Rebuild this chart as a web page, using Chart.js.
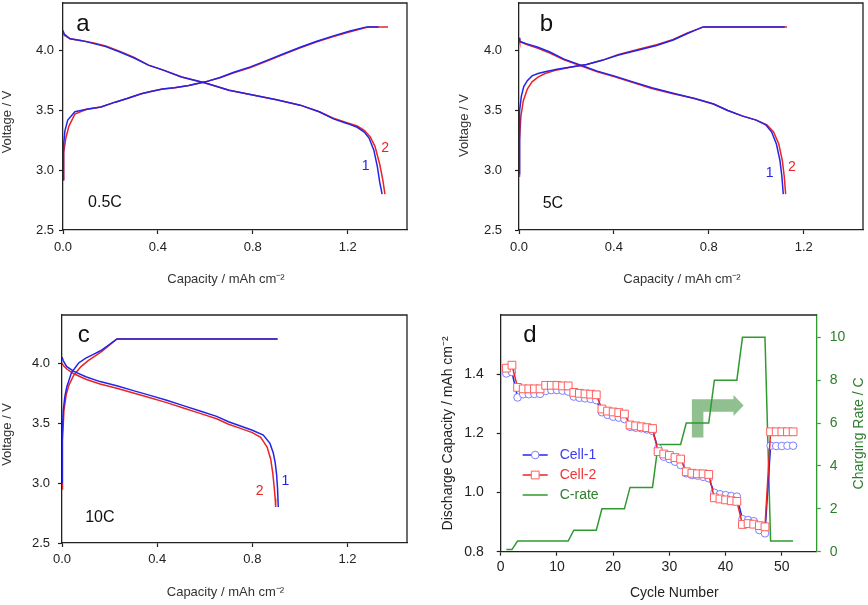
<!DOCTYPE html>
<html lang="en">
<head>
<meta charset="UTF-8">
<title>Charge / discharge curves and rate capability</title>
<script src="https://cdn.jsdelivr.net/npm/chart.js@4.4.1/dist/chart.umd.min.js"></script>
<style>
  body { margin: 0; background: #fff; }
  canvas { position: absolute; }
</style>
</head>
<body>
<canvas id="panelA" width="430" height="300" style="left:0;top:0"></canvas>
<canvas id="panelB" width="438" height="300" style="left:430px;top:0"></canvas>
<canvas id="panelC" width="430" height="305" style="left:0;top:300px"></canvas>
<canvas id="panelD" width="438" height="305" style="left:430px;top:300px"></canvas>
<script>
// ---- panel a : 0.5C ----
const aChgCap1 = [0, 0.002, 0.008, 0.02, 0.05, 0.1, 0.16, 0.22, 0.27, 0.33, 0.37, 0.42, 0.47, 0.53, 0.6, 0.66, 0.72, 0.79, 0.86, 0.93, 1.0, 1.07, 1.14, 1.21, 1.28, 1.33];
const aChgV1   = [2.92, 3.2, 3.33, 3.42, 3.49, 3.51, 3.53, 3.57, 3.6, 3.64, 3.66, 3.68, 3.69, 3.71, 3.74, 3.775, 3.82, 3.865, 3.92, 3.975, 4.03, 4.08, 4.125, 4.165, 4.2, 4.2];
const aChgCap2 = [0, 0.003, 0.012, 0.025, 0.05, 0.1, 0.16, 0.22, 0.27, 0.33, 0.37, 0.42, 0.47, 0.53, 0.6, 0.66, 0.72, 0.79, 0.86, 0.93, 1.0, 1.07, 1.14, 1.21, 1.29, 1.37];
const aChgV2   = [2.92, 3.15, 3.27, 3.37, 3.47, 3.51, 3.53, 3.57, 3.6, 3.64, 3.66, 3.68, 3.69, 3.71, 3.74, 3.775, 3.815, 3.86, 3.915, 3.97, 4.025, 4.075, 4.12, 4.16, 4.2, 4.2];
const aDisCap1 = [0, 0.005, 0.03, 0.08, 0.13, 0.18, 0.24, 0.3, 0.36, 0.42, 0.5, 0.6, 0.7, 0.8, 0.9, 1.0, 1.08, 1.14, 1.2, 1.24, 1.27, 1.29, 1.31, 1.325, 1.335, 1.345];
const aDisV1   = [4.17, 4.14, 4.1, 4.085, 4.06, 4.035, 3.99, 3.94, 3.88, 3.84, 3.78, 3.73, 3.67, 3.63, 3.59, 3.545, 3.49, 3.43, 3.39, 3.36, 3.32, 3.27, 3.17, 3.03, 2.9, 2.8];
const aDisCap2 = [0, 0.005, 0.03, 0.08, 0.13, 0.18, 0.24, 0.3, 0.36, 0.42, 0.5, 0.6, 0.7, 0.8, 0.9, 1.0, 1.08, 1.14, 1.2, 1.24, 1.27, 1.295, 1.315, 1.335, 1.348, 1.357];
const aDisV2   = [4.16, 4.13, 4.1, 4.085, 4.065, 4.04, 3.995, 3.945, 3.88, 3.84, 3.78, 3.73, 3.67, 3.63, 3.59, 3.545, 3.49, 3.435, 3.395, 3.37, 3.335, 3.28, 3.2, 3.05, 2.92, 2.8];

// ---- panel b : 5C ----
const bChgCap1 = [0, 0.001, 0.004, 0.01, 0.02, 0.035, 0.055, 0.08, 0.11, 0.16, 0.22, 0.285, 0.35, 0.42, 0.5, 0.58, 0.65, 0.71, 0.775, 1.12];
const bChgV1   = [2.97, 3.3, 3.5, 3.62, 3.7, 3.75, 3.79, 3.81, 3.825, 3.845, 3.865, 3.885, 3.92, 3.965, 4.005, 4.045, 4.09, 4.145, 4.2, 4.2];
const bChgCap2 = [0, 0.002, 0.008, 0.018, 0.035, 0.055, 0.08, 0.11, 0.16, 0.22, 0.285, 0.35, 0.42, 0.5, 0.58, 0.65, 0.71, 0.78, 1.13];
const bChgV2   = [2.95, 3.25, 3.45, 3.58, 3.68, 3.74, 3.78, 3.81, 3.84, 3.865, 3.885, 3.92, 3.97, 4.01, 4.05, 4.095, 4.15, 4.2, 4.2];
const bDisCap1 = [0, 0.003, 0.03, 0.08, 0.13, 0.19, 0.26, 0.33, 0.4, 0.48, 0.56, 0.65, 0.74, 0.82, 0.88, 0.94, 1.0, 1.04, 1.065, 1.085, 1.1, 1.108, 1.114];
const bDisV1   = [4.11, 4.08, 4.06, 4.03, 3.99, 3.93, 3.88, 3.83, 3.79, 3.74, 3.69, 3.645, 3.6, 3.555, 3.5, 3.455, 3.42, 3.38, 3.32, 3.22, 3.08, 2.95, 2.8];
const bDisCap2 = [0, 0.003, 0.03, 0.08, 0.13, 0.19, 0.26, 0.33, 0.4, 0.48, 0.56, 0.65, 0.74, 0.82, 0.88, 0.94, 1.0, 1.045, 1.073, 1.095, 1.11, 1.118, 1.124];
const bDisV2   = [4.1, 4.075, 4.055, 4.02, 3.98, 3.925, 3.875, 3.825, 3.785, 3.735, 3.685, 3.64, 3.6, 3.555, 3.5, 3.455, 3.42, 3.38, 3.32, 3.22, 3.08, 2.95, 2.8];

// ---- panel c : 10C ----
const cChgCap1 = [0, 0.001, 0.005, 0.012, 0.02, 0.04, 0.07, 0.1, 0.13, 0.16, 0.19, 0.231, 0.906];
const cChgV1   = [3.0, 3.4, 3.6, 3.72, 3.8, 3.92, 4.0, 4.04, 4.07, 4.1, 4.14, 4.2, 4.2];
const cChgCap2 = [0, 0.002, 0.008, 0.018, 0.03, 0.05, 0.08, 0.11, 0.14, 0.17, 0.2, 0.231, 0.906];
const cChgV2   = [2.95, 3.35, 3.6, 3.74, 3.82, 3.9, 3.97, 4.02, 4.06, 4.1, 4.15, 4.2, 4.2];
const cDisCap1 = [0, 0.005, 0.02, 0.05, 0.1, 0.16, 0.23, 0.3, 0.37, 0.44, 0.51, 0.58, 0.65, 0.7, 0.75, 0.8, 0.846, 0.874, 0.888, 0.896, 0.902, 0.906, 0.909];
const cDisV1   = [4.05, 4.02, 3.97, 3.93, 3.885, 3.845, 3.81, 3.77, 3.73, 3.69, 3.645, 3.6, 3.555, 3.51, 3.475, 3.44, 3.4, 3.33, 3.25, 3.17, 3.07, 2.95, 2.8];
const cDisCap2 = [0, 0.005, 0.02, 0.05, 0.1, 0.16, 0.23, 0.3, 0.37, 0.44, 0.51, 0.58, 0.65, 0.7, 0.75, 0.8, 0.835, 0.862, 0.877, 0.886, 0.892, 0.896, 0.898];
const cDisV2   = [4.0, 3.98, 3.95, 3.91, 3.865, 3.825, 3.79, 3.75, 3.71, 3.67, 3.625, 3.58, 3.535, 3.49, 3.455, 3.42, 3.38, 3.3, 3.2, 3.08, 2.96, 2.87, 2.8];

// ---- panel d : cycling ----
const cycles = [1, 2, 3, 4, 5, 6, 7, 8, 9, 10, 11, 12, 13, 14, 15, 16, 17, 18, 19, 20, 21, 22, 23, 24, 25, 26,
                27, 28, 29, 30, 31, 32, 33, 34, 35, 36, 37, 38, 39, 40, 41, 42, 43, 44, 45, 46, 47, 48, 49, 50, 51, 52];
const cell1 = [1.402, 1.407, 1.321, 1.332, 1.332, 1.333, 1.333, 1.343, 1.346, 1.346, 1.344, 1.341, 1.324, 1.32, 1.318, 1.316, 1.312,
               1.271, 1.262, 1.256, 1.253, 1.248, 1.222, 1.219, 1.217, 1.213, 1.208, 1.149, 1.121, 1.113, 1.104, 1.093,
               1.065, 1.059, 1.057, 1.053, 1.048, 0.999, 0.994, 0.991, 0.988, 0.986, 0.91, 0.907, 0.903, 0.873, 0.862,
               1.158, 1.157, 1.157, 1.158, 1.158];
const cell2 = [1.42, 1.43, 1.355, 1.35, 1.35, 1.35, 1.35, 1.362, 1.362, 1.362, 1.36, 1.36, 1.338, 1.335, 1.333, 1.332, 1.33,
               1.282, 1.275, 1.272, 1.27, 1.265, 1.228, 1.225, 1.222, 1.219, 1.216, 1.138, 1.13, 1.125, 1.118, 1.113,
               1.07, 1.065, 1.063, 1.063, 1.061, 0.982, 0.978, 0.975, 0.972, 0.97, 0.892, 0.895, 0.893, 0.888, 0.884,
               1.205, 1.205, 1.205, 1.205, 1.205];
const cRate = [0.1, 0.1, 0.5, 0.5, 0.5, 0.5, 0.5, 0.5, 0.5, 0.5, 0.5, 0.5, 1, 1, 1, 1, 1, 2, 2, 2, 2, 2, 3, 3, 3, 3, 3,
               5, 5, 5, 5, 5, 6, 6, 6, 6, 6, 8, 8, 8, 8, 8, 10, 10, 10, 10, 10, 0.5, 0.5, 0.5, 0.5, 0.5];
// L-shaped arrow (cycle, capacity)
const arrowX = [34.0, 34.0, 41.4, 41.4, 43.2, 41.4, 41.4, 36.05, 36.05];
const arrowY = [1.186, 1.315, 1.315, 1.329, 1.294, 1.258, 1.273, 1.273, 1.186];

const BLUE = '#2424e8', RED = '#e82424', GREEN = '#2f9a2f', DARK = '#222';
const FONT = '"Liberation Sans", Arial, sans-serif';
Chart.defaults.font.family = FONT;
Chart.defaults.color = DARK;
Chart.defaults.animation = false;

function pts(xs, ys) { return xs.map((x, i) => ({ x: x, y: ys[i] })); }

function curve(xs, ys, color) {
  return { data: pts(xs, ys), showLine: true, borderColor: color, borderWidth: 1.5,
           pointRadius: 0, tension: 0, fill: false };
}

// plugins
const notesPlugin = {
  id: 'notes',
  afterDatasetsDraw(chart, args, opts) {
    const ctx = chart.ctx;
    (opts.items || []).forEach(n => {
      const px = chart.scales.x.getPixelForValue(n.x);
      const py = chart.scales.y.getPixelForValue(n.y);
      ctx.save();
      ctx.font = n.size + 'px ' + FONT;
      ctx.fillStyle = n.color || '#111';
      ctx.textAlign = 'center';
      ctx.textBaseline = 'middle';
      ctx.fillText(n.text, px, py);
      ctx.restore();
    });
  }
};

const framePlugin = {
  id: 'frame',
  afterDraw(chart, args, opts) {
    const { left, top, right, bottom } = chart.chartArea;
    const ctx = chart.ctx;
    ctx.save();
    ctx.strokeStyle = DARK;
    ctx.lineWidth = 1.3;
    ctx.beginPath();
    ctx.moveTo(left, top);
    ctx.lineTo(right, top);
    if (opts.full) ctx.lineTo(right, bottom);
    ctx.stroke();
    ctx.restore();
  }
};

function voltageAxes(o) {
  return {
    x: {
      type: 'linear', min: 0, max: 1.45,
      afterFit: s => { s.height = o.xh; s.paddingLeft = 0; s.paddingRight = 0; },
      ticks: { stepSize: 0.4, includeBounds: false, padding: o.xpad, maxRotation: 0,
               font: { size: 13 }, color: DARK, callback: v => v.toFixed(1) },
      grid: { drawOnChartArea: false, tickLength: 4, tickColor: DARK, tickWidth: 1.2 },
      border: { color: DARK, width: 1.3 },
      title: { display: true, text: 'Capacity / mAh cm\u207B\u00B2' + '\u00a0'.repeat(5),
               font: { size: 13 }, color: '#333', padding: { top: 0, bottom: o.xtpad } }
    },
    y: {
      type: 'linear', min: 2.5, max: 4.4,
      afterFit: s => { s.width = o.yw; s.paddingTop = 0; s.paddingBottom = 0; },
      ticks: { stepSize: 0.5, includeBounds: false, padding: o.ypad,
               font: { size: 13 }, color: DARK, callback: v => v.toFixed(1) },
      grid: { drawOnChartArea: false, tickLength: 4, tickColor: DARK, tickWidth: 1.2 },
      border: { color: DARK, width: 1.3 },
      title: { display: true, text: 'Voltage / V' + '\u00a0'.repeat(o.yshift),
               font: { size: 13 }, color: '#333', padding: { top: o.ytpad, bottom: 0 } }
    }
  };
}

function voltagePanel(id, sets, axes, pad, notes) {
  return new Chart(document.getElementById(id), {
    type: 'scatter',
    data: { datasets: [
      curve(sets[0], sets[1], BLUE), curve(sets[4], sets[5], BLUE),
      curve(sets[2], sets[3], RED), curve(sets[6], sets[7], RED)
    ] },
    options: {
      responsive: false,
      layout: { padding: pad },
      scales: voltageAxes(axes),
      plugins: { legend: { display: false }, tooltip: { enabled: false },
                 notes: { items: notes }, frame: { full: true } }
    },
    plugins: [notesPlugin, framePlugin]
  });
}

voltagePanel('panelA',
  [aChgCap1, aChgV1, aChgCap2, aChgV2, aDisCap1, aDisV1, aDisCap2, aDisV2],
  { xh: 70, xpad: 6, xtpad: 13, yw: 63, ypad: 5, ytpad: 0, yshift: 3 },
  { left: 0, top: 3, right: 23, bottom: 0 },
  [ { text: 'a', x: 0.084, y: 4.217, size: 24 },
    { text: '0.5C', x: 0.177, y: 2.733, size: 16 },
    { text: '1', x: 1.276, y: 3.036, size: 14, color: BLUE },
    { text: '2', x: 1.358, y: 3.183, size: 14, color: RED } ]);

voltagePanel('panelB',
  [bChgCap1, bChgV1, bChgCap2, bChgV2, bDisCap1, bDisV1, bDisCap2, bDisV2],
  { xh: 70, xpad: 6, xtpad: 13, yw: 89, ypad: 13, ytpad: 27, yshift: 5 },
  { left: 0, top: 3, right: 5, bottom: 0 },
  [ { text: 'b', x: 0.116, y: 4.217, size: 24 },
    { text: '5C', x: 0.143, y: 2.725, size: 16 },
    { text: '1', x: 1.056, y: 2.978, size: 14, color: BLUE },
    { text: '2', x: 1.15, y: 3.028, size: 14, color: RED } ]);

voltagePanel('panelC',
  [cChgCap1, cChgV1, cChgCap2, cChgV2, cDisCap1, cDisV1, cDisCap2, cDisV2],
  { xh: 62, xpad: 5, xtpad: 4.5, yw: 62, ypad: 8, ytpad: 0, yshift: 3 },
  { left: 0, top: 15, right: 23, bottom: 0 },
  [ { text: 'c', x: 0.091, y: 4.233, size: 24 },
    { text: '10C', x: 0.159, y: 2.708, size: 16 },
    { text: '1', x: 0.939, y: 3.019, size: 14, color: BLUE },
    { text: '2', x: 0.831, y: 2.936, size: 14, color: RED } ]);

// ---- panel d ----
const legendColors = ['#3b3bf0', '#ee3434', '#2e7d2e'];

const arrowPlugin = {
  id: 'arrow',
  beforeDatasetsDraw(chart) {
    const ctx = chart.ctx, sx = chart.scales.x, sy = chart.scales.y;
    ctx.save();
    ctx.fillStyle = 'rgba(70,150,70,0.6)';
    ctx.beginPath();
    arrowX.forEach((x, i) => {
      const px = sx.getPixelForValue(x), py = sy.getPixelForValue(arrowY[i]);
      if (i === 0) ctx.moveTo(px, py); else ctx.lineTo(px, py);
    });
    ctx.closePath();
    ctx.fill();
    ctx.restore();
  }
};

const dLegendPlugin = {
  id: 'dLegend',
  afterDraw(chart) {
    const ctx = chart.ctx, a = chart.chartArea;
    ctx.save();
    chart.data.datasets.forEach((ds, i) => {
      const y = a.top + 140 + i * 20;
      const x0 = a.left + 22, x1 = a.left + 47, xm = (x0 + x1) / 2;
      ctx.strokeStyle = ds.borderColor;
      ctx.lineWidth = 1.5;
      ctx.beginPath(); ctx.moveTo(x0, y); ctx.lineTo(x1, y); ctx.stroke();
      if (ds.pointRadius > 0) {
        ctx.fillStyle = '#fff';
        ctx.strokeStyle = ds.pointBorderColor;
        ctx.lineWidth = 1;
        ctx.beginPath();
        if (ds.pointStyle === 'rect') {
          const h = ds.pointRadius * Math.SQRT1_2;
          ctx.rect(xm - h, y - h, 2 * h, 2 * h);
        } else {
          ctx.arc(xm, y, ds.pointRadius, 0, Math.PI * 2);
        }
        ctx.fill(); ctx.stroke();
      }
      ctx.font = '14px ' + FONT;
      ctx.fillStyle = legendColors[i];
      ctx.textAlign = 'left';
      ctx.textBaseline = 'middle';
      ctx.fillText(ds.label, a.left + 59, y);
    });
    // right axis title, reading bottom to top
    ctx.translate(chart.width - 8.4, (a.top + a.bottom) / 2);
    ctx.rotate(-Math.PI / 2);
    ctx.font = '14px ' + FONT;
    ctx.fillStyle = '#2e7d2e';
    ctx.textAlign = 'center';
    ctx.textBaseline = 'middle';
    ctx.fillText('Charging Rate / C', 0, 0);
    ctx.restore();
  }
};

new Chart(document.getElementById('panelD'), {
  type: 'scatter',
  data: { datasets: [
    { label: 'Cell-1', data: pts(cycles, cell1), showLine: true, borderColor: BLUE, borderWidth: 1.5,
      pointStyle: 'circle', pointRadius: 3.8, pointBorderColor: '#7d7dff', pointBackgroundColor: '#fff',
      pointBorderWidth: 1, order: 2 },
    { label: 'Cell-2', data: pts(cycles, cell2), showLine: true, borderColor: RED, borderWidth: 1.5,
      pointStyle: 'rect', pointRadius: 5.5, pointBorderColor: '#ff5e5e', pointBackgroundColor: '#fff',
      pointBorderWidth: 1, order: 1 },
    { label: 'C-rate', data: pts(cycles, cRate), showLine: true, borderColor: GREEN, borderWidth: 1.5,
      pointRadius: 0, yAxisID: 'y2', order: 3 }
  ] },
  options: {
    responsive: false,
    layout: { padding: { left: 0, top: 15, right: 0, bottom: 0 } },
    scales: {
      x: {
        type: 'linear', min: 0, max: 56.2,
        afterFit: s => { s.height = 53.3; s.paddingLeft = 0; s.paddingRight = 0; },
        ticks: { stepSize: 10, includeBounds: false, padding: 2.6, maxRotation: 0, font: { size: 14 }, color: DARK },
        grid: { drawOnChartArea: false, tickLength: 4, tickColor: DARK, tickWidth: 1.2 },
        border: { color: DARK, width: 1.3 },
        title: { display: true, text: '\u00a0'.repeat(8) + 'Cycle Number', font: { size: 14 }, color: DARK,
                 padding: { top: 0, bottom: 3.3 } }
      },
      y: {
        type: 'linear', min: 0.8, max: 1.5995, position: 'left',
        afterFit: s => { s.width = 70.7; s.paddingTop = 0; s.paddingBottom = 0; },
        ticks: { stepSize: 0.2, includeBounds: false, padding: 13, font: { size: 14 }, color: DARK,
                 callback: v => v.toFixed(1) },
        grid: { drawOnChartArea: false, tickLength: 4, tickColor: DARK, tickWidth: 1.2 },
        border: { color: DARK, width: 1.3 },
        title: { display: true, text: 'Discharge Capacity / mAh cm\u207B\u00B2', font: { size: 14 }, color: DARK,
                 padding: { top: 10, bottom: 0 } }
      },
      y2: {
        type: 'linear', min: 0, max: 11.04, position: 'right',
        afterFit: s => { s.width = 51.3; s.paddingTop = 0; s.paddingBottom = 0; },
        ticks: { stepSize: 2, includeBounds: false, padding: 9, font: { size: 14 }, color: '#2e7d2e' },
        grid: { drawOnChartArea: false, tickLength: 4, tickColor: GREEN, tickWidth: 1.2 },
        border: { color: GREEN, width: 1.3 }
      }
    },
    plugins: { legend: { display: false }, tooltip: { enabled: false },
               notes: { items: [ { text: 'd', x: 5.2, y: 1.532, size: 24 } ] },
               frame: { full: false } }
  },
  plugins: [arrowPlugin, notesPlugin, framePlugin, dLegendPlugin]
});
</script>
</body>
</html>
